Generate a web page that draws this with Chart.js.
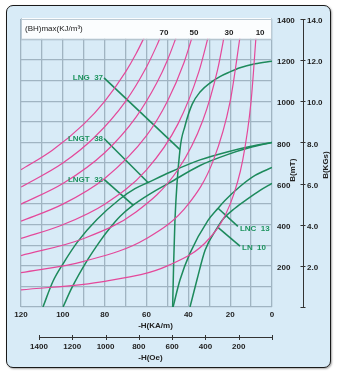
<!DOCTYPE html>
<html>
<head>
<meta charset="utf-8">
<script src="https://cdn.jsdelivr.net/npm/chart.js@4.4.1/dist/chart.umd.min.js"></script>
<style>
  html, body { margin: 0; padding: 0; background: #fff; }
  #wrap { position: relative; width: 341px; height: 375px; }
  #frame {
    position: absolute; left: 6px; top: 5px; width: 323px; height: 361px;
    border: 1.5px solid #1a1a1a; border-radius: 7px; background: #d8ebf7;
    box-shadow: 1px 1px 2px rgba(0, 0, 0, .35);
  }
  canvas { position: absolute; left: 0; top: 0; }
</style>
</head>
<body>
<div id="wrap"><div id="frame"></div><canvas id="myChart" width="341" height="375"></canvas></div>
<script>
// demagnetization curves, -H in kA/m and B in mT
const lng37H = [47.5, 47.0, 46.4, 44.0, 41.6, 38.2, 34.4, 29.2, 24.9, 20.1, 15.3, 8.1, 0];
const lng37B = [0, 220, 420, 765, 880, 985, 1045, 1092, 1120, 1143, 1163, 1182, 1195];
const lngt38H = [109.5, 104.7, 99.9, 92.7, 83.7, 72.7, 65.5, 59.3, 48.8, 34.4, 21, 10.5, 0];
const lngt38B = [0, 125, 210, 320, 425, 525, 575, 605, 655, 715, 755, 780, 800];
const lngt32H = [99.9, 95.6, 88.4, 82.2, 77.4, 72.7, 66.4, 58.3, 48.8, 34.4, 21, 10.5, 0];
const lngt32B = [0, 95, 225, 320, 385, 440, 495, 550, 605, 688, 742, 775, 800];
const lnc13H = [47.3, 44, 39.2, 30.6, 25.8, 22.5, 15.3, 8.1, 0];
const lnc13B = [0, 131, 262, 421, 480, 518, 586, 640, 678];
const ln10H = [39.2, 35.9, 32, 26.3, 23.9, 17.7, 12, 5.7, 0];
const ln10B = [0, 131, 276, 383, 421, 480, 523, 567, 601];

// (BH)max contour lines, kJ/m3
const bhLevels = [80, 70, 60, 50, 40, 30, 20, 10];
const bhH = [
  [120, 105, 90, 80, 70, 65, 60],
  [120, 100, 85, 70, 60, 55, 52],
  [120, 100, 80, 65, 55, 50, 45],
  [120, 100, 80, 60, 50, 42, 37],
  [120, 100, 80, 60, 45, 35, 30],
  [120, 90, 65, 45, 33, 26, 22],
  [120, 90, 60, 40, 28, 20, 15],
  [120, 80, 50, 30, 20, 14, 10, 7.5]
];
const bhB = [
  [667, 762, 889, 1000, 1143, 1231, 1333],
  [583, 700, 824, 1000, 1167, 1273, 1346],
  [500, 600, 750, 923, 1091, 1200, 1333],
  [417, 500, 625, 833, 1000, 1190, 1351],
  [333, 400, 500, 667, 889, 1143, 1333],
  [250, 333, 462, 667, 909, 1154, 1364],
  [167, 222, 333, 500, 714, 1000, 1333],
  [83, 125, 200, 333, 500, 714, 1000, 1333]
];
const bhTopLabels = ['70', '50', '30', '10'];

// grade names and their leader lines (start at the text, end on the curve)
const gradeNames = ['LNG  37', 'LNGT  38', 'LNGT  32', 'LNC  13', 'LN  10'];
const leaderH = [[80.3, 44], [80.3, 59.3], [80.3, 66.4], [16.3, 25.8], [15.3, 26.0]];
const leaderB = [[1114, 765], [819, 605], [620, 495], [392, 480], [296, 388]];

// second H scale in Oe
const oeTicks = [0, 200, 400, 600, 800, 1000, 1200, 1400];

const OE_PER_KAM = 12.566;
const PINK = '#e4489a';
const GREEN = '#1d8a5c';
const FONT = '"Liberation Sans", Arial, sans-serif';

function pts(h, b) {
  return h.map((v, i) => ({ x: v, y: b[i] }));
}

let datasets = [];
bhLevels.forEach((k, i) => {
  datasets.push({
    label: 'BH ' + k, data: pts(bhH[i], bhB[i]),
    borderColor: PINK, borderWidth: 1.2, cubicInterpolationMode: 'monotone'
  });
});
[[lng37H, lng37B], [lngt38H, lngt38B], [lngt32H, lngt32B], [lnc13H, lnc13B], [ln10H, ln10B]].forEach((c, i) => {
  datasets.push({
    label: gradeNames[i], data: pts(c[0], c[1]),
    borderColor: GREEN, borderWidth: 1.5, cubicInterpolationMode: 'monotone'
  });
});
leaderH.forEach((h, i) => {
  datasets.push({
    label: 'lead ' + i, data: pts(h, leaderB[i]),
    borderColor: GREEN, borderWidth: 1.6, tension: 0
  });
});

const decor = {
  id: 'decor',
  afterDatasetsDraw(chart) {
    const { ctx, chartArea: a } = chart;
    const { x, y, yk, oe } = chart.scales;
    ctx.save();

    // white header strip over the top of the grid
    const bandBottom = y.getPixelForValue(1300) - 0.8;
    ctx.fillStyle = '#fbfdfe';
    ctx.fillRect(a.left + 0.7, a.top - 1, a.right - a.left - 1.4, bandBottom - a.top + 1);
    ctx.strokeStyle = '#bccad4';
    ctx.lineWidth = 1;
    ctx.strokeRect(a.left + 0.5, a.top + 0.5, a.right - a.left - 1, bandBottom - a.top);

    ctx.fillStyle = '#222';
    ctx.textBaseline = 'middle';
    ctx.textAlign = 'left';
    ctx.font = '8px ' + FONT;
    ctx.fillText('(BH)max(KJ/m³)', a.left + 4, a.top + 10);

    ctx.font = 'bold 8px ' + FONT;
    ctx.textAlign = 'center';
    const bhLabelAt = [51.6, 37.3, 20.6, 5.7];
    bhTopLabels.forEach((t, i) => {
      ctx.fillText(t, x.getPixelForValue(bhLabelAt[i]), a.top + 14);
    });

    // grade names next to their leaders
    ctx.fillStyle = '#1f9460';
    gradeNames.forEach((t, i) => {
      const px = x.getPixelForValue(leaderH[i][0]);
      const py = y.getPixelForValue(leaderB[i][0]);
      if (i < 3) {
        ctx.textAlign = 'right';
        ctx.fillText(t, px - 1, py);
      } else {
        ctx.textAlign = 'left';
        ctx.fillText(t, px + 2, py + 2);
      }
    });

    // axis titles
    ctx.fillStyle = '#222';
    ctx.textAlign = 'center';
    ctx.fillText('-H(KA/m)', x.getPixelForValue(55.7), x.top + 19);
    ctx.fillText('-H(Oe)', x.getPixelForValue(58.1), oe.top + 21);
    ctx.save();
    ctx.translate(y.left + 21, y.getPixelForValue(665));
    ctx.rotate(-Math.PI / 2);
    ctx.fillText('B(mT)', 0, 0);
    ctx.restore();
    ctx.save();
    ctx.translate(yk.left + 23, y.getPixelForValue(690));
    ctx.rotate(-Math.PI / 2);
    ctx.fillText('B(KGs)', 0, 0);
    ctx.restore();

    // KGs axis line with crossing ticks
    ctx.strokeStyle = '#333';
    ctx.lineWidth = 1;
    const kx = Math.round(yk.left) + 0.5;
    ctx.beginPath();
    ctx.moveTo(kx, yk.getPixelForValue(14));
    ctx.lineTo(kx, yk.getPixelForValue(0));
    yk.ticks.forEach(t => {
      const py = Math.round(yk.getPixelForValue(t.value)) + 0.5;
      ctx.moveTo(kx - 3, py);
      ctx.lineTo(kx + 2, py);
    });
    ctx.stroke();

    // Oe axis line with crossing ticks
    const oy = Math.round(oe.top) + 0.5;
    ctx.beginPath();
    ctx.moveTo(oe.getPixelForValue(oeTicks[oeTicks.length - 1]), oy);
    ctx.lineTo(oe.getPixelForValue(0), oy);
    oe.ticks.forEach(t => {
      const px = Math.round(oe.getPixelForValue(t.value)) + 0.5;
      ctx.moveTo(px, oy - 2.5);
      ctx.lineTo(px, oy + 2.5);
    });
    ctx.stroke();
    ctx.restore();
  }
};

const gridColor = '#a0b4c2';
const tickFont = { family: FONT, size: 8, weight: 'bold' };

var ctx = document.getElementById('myChart').getContext('2d');
var myChart = new Chart(ctx, {
  type: 'line',
  data: { datasets: datasets },
  options: {
    responsive: false,
    animation: false,
    devicePixelRatio: 1,
    layout: { padding: { left: 21, top: 19, right: 8, bottom: 8 } },
    elements: { point: { radius: 0 }, line: { fill: false } },
    plugins: { legend: { display: false }, tooltip: { enabled: false } },
    scales: {
      x: {
        type: 'linear', position: 'bottom', reverse: true, min: 0, max: 120, weight: 0,
        grid: { color: gridColor, lineWidth: 1.3, drawTicks: false },
        border: { display: false },
        ticks: {
          stepSize: 10, padding: 3, color: '#222', font: tickFont, maxRotation: 0, autoSkip: false,
          callback: v => (v % 20 === 0 ? v : '')
        },
        afterFit: s => { s.height = 30; }
      },
      oe: {
        type: 'linear', position: 'bottom', reverse: true, min: 0, max: 120 * OE_PER_KAM, weight: 1,
        grid: { display: false, drawTicks: false },
        border: { display: false },
        ticks: {
          padding: 5, color: '#222', font: tickFont, maxRotation: 0, autoSkip: false,
          callback: v => (v === 0 ? '' : v)
        },
        afterBuildTicks: s => { s.ticks = oeTicks.map(v => ({ value: v })); },
        afterFit: s => { s.height = 30; }
      },
      y: {
        type: 'linear', position: 'right', min: 0, max: 1400, weight: 0,
        grid: { color: gridColor, lineWidth: 1.3, drawTicks: false },
        border: { display: false },
        ticks: {
          stepSize: 100, padding: 5, labelOffset: 2, color: '#222', font: tickFont, autoSkip: false,
          callback: v => (v % 200 === 0 && v > 0 ? v : '')
        },
        afterFit: s => { s.width = 31; }
      },
      yk: {
        type: 'linear', position: 'right', min: 0, max: 14, weight: 1,
        grid: { display: false, drawTicks: false },
        border: { display: false },
        ticks: {
          stepSize: 2, padding: 4, labelOffset: 2, color: '#222', font: tickFont, autoSkip: false,
          callback: v => (v === 0 ? '' : v.toFixed(1))
        },
        afterFit: s => { s.width = 30; }
      }
    }
  },
  plugins: [decor]
});
</script>
</body>
</html>
